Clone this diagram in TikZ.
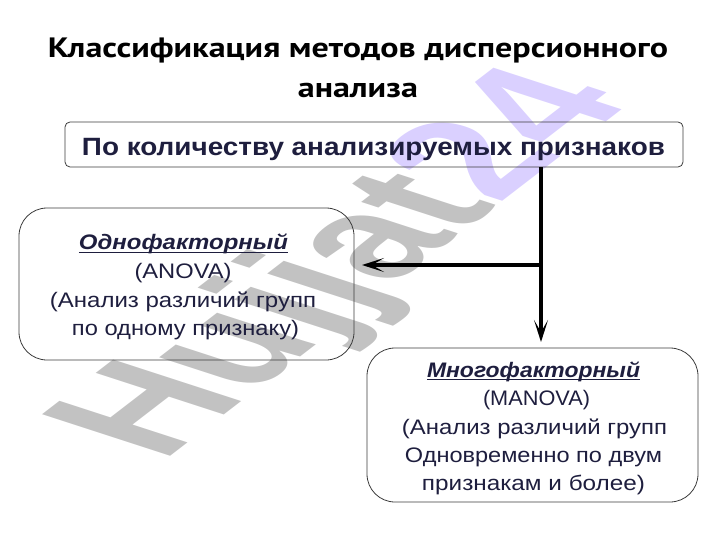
\documentclass[tikz,border=0pt]{standalone}
\usepackage{fontspec}
\setmainfont{Liberation Sans}
\newfontfamily\titlefont{PT Sans}
\usetikzlibrary{arrows.meta}
\definecolor{txt}{RGB}{30,30,62}
\definecolor{wmgray}{RGB}{194,194,194}
\definecolor{wmlav}{RGB}{218,208,255}
\definecolor{frame}{RGB}{60,60,60}
\newcommand\fitw[2]{\resizebox{#1}{\height}{#2}}
\newsavebox\ulbox
\newcommand\myul[1]{\sbox\ulbox{#1}\rlap{\rule[-3pt]{\wd\ulbox}{1.4pt}}\usebox\ulbox}
\begin{document}
\begin{tikzpicture}[x=1pt,y=-1pt,
  box/.style={draw=frame, line width=0.8pt, rounded corners=#1, minimum width=0pt,
              anchor=north west, inner sep=0pt, outer sep=0pt},
  ttl/.style={anchor=base, inner sep=0pt, text=black, font=\titlefont\fontsize{28}{32}\selectfont\bfseries},
  hdr/.style={anchor=base, inner sep=0pt, text=txt, font=\fontsize{25}{28}\selectfont\bfseries},
  line/.style={anchor=base, inner sep=0pt, text=txt, font=\fontsize{21}{24}\selectfont},
  conn/.style={line width=4pt, -{Stealth[length=22pt,width=14pt,inset=12pt]}}]
\useasboundingbox (0,0) rectangle (720,540);
% watermark
\begin{scope}[shift={(350,266)}, xscale=2, transform shape]
  \node[rotate=57, inner sep=0pt, font=\fontsize{111}{111}\selectfont\bfseries] (wm)
    {\textcolor{wmgray}{Hujjat}\textcolor{wmlav}{24}};
\end{scope}
% title
\node[ttl] (title1) at (358,58) {\fitw{620pt}{Классификация методов дисперсионного}};
\node[ttl] (title2) at (358,98) {\fitw{120pt}{анализа}};
% boxes
\node[box=5pt, minimum width=618pt, minimum height=45pt] (top) at (65,122) {};
\node[box=28pt, minimum width=335pt, minimum height=152pt] (one) at (19,208) {};
\node[box=28pt, minimum width=331pt, minimum height=154pt] (multi) at (367,348) {};
% texts
\node[hdr] (toptext) at (373.5,156) {\fitw{583pt}{По количеству анализируемых признаков}};
\node[line, font=\fontsize{21}{24}\selectfont\bfseries\itshape] (one1) at (183.5,250) {\myul{\fitw{209pt}{Однофакторный}}};
\node[line] (one2) at (183,278) {\fitw{97pt}{(ANOVA)}};
\node[line] (one3) at (183,307) {\fitw{266pt}{(Анализ различий групп}};
\node[line] (one4) at (185.5,335) {\fitw{227pt}{по одному признаку)}};
\node[line, font=\fontsize{21}{24}\selectfont\bfseries\itshape] (m1) at (533.5,377) {\myul{\fitw{213pt}{Многофакторный}}};
\node[line] (m2) at (536.5,405) {\fitw{107pt}{(MANOVA)}};
\node[line] (m3) at (534.5,434) {\fitw{265pt}{(Анализ различий групп}};
\node[line] (m4) at (533.5,462) {\fitw{257pt}{Одновременно по двум}};
\node[line] (m5) at (533.5,490) {\fitw{223pt}{признакам и более)}};
% connectors
\coordinate (j) at (541,265);
\draw[conn] (top.south -| j) -- ([yshift=6pt]multi.north -| j);
\draw[conn] (j) -- ([xshift=8pt]one.east |- j);
\end{tikzpicture}
\end{document}
